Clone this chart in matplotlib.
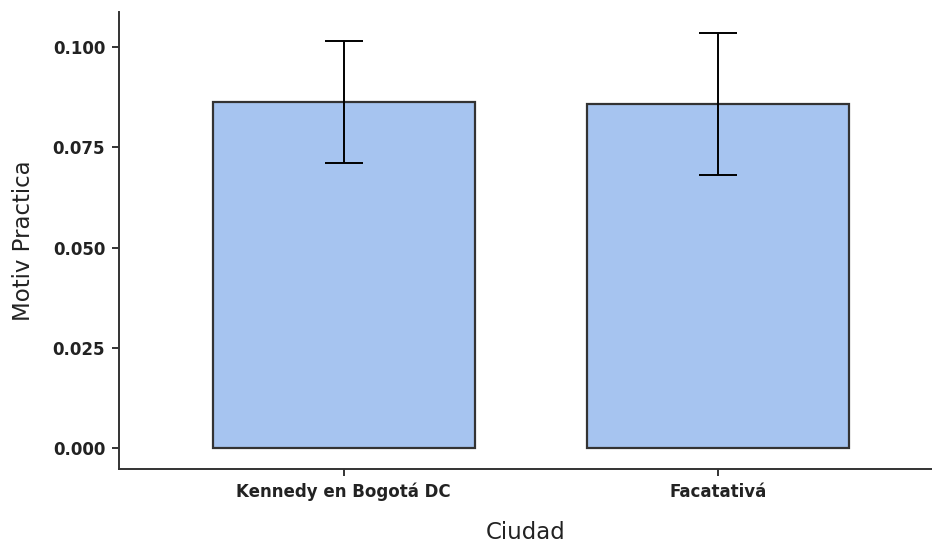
import matplotlib

matplotlib.use("Agg")

import matplotlib.pyplot as plt
import numpy as np

FIG_DPI = 100
BAR_COLOR = "#A6C4F0"
EDGE_COLOR = "#333333"
TEXT_COLOR = "#222222"

# data
ciudades = ["Kennedy en Bogotá DC", "Facatativá"]
medias = [0.0863, 0.0858]
errores = [0.0152, 0.0178]
y_ticks = [0.000, 0.025, 0.050, 0.075, 0.100]


def main() -> None:
    plt.rcParams.update({"font.family": ["DejaVu Sans"]})
    fig = plt.figure(figsize=(9.32, 5.42), dpi=FIG_DPI)
    ax = fig.add_axes([0.1277, 0.1347, 0.8723, 0.8433])

    x = np.arange(1, len(ciudades) + 1)
    ax.bar(x, medias, width=0.7, color=BAR_COLOR, edgecolor=EDGE_COLOR, linewidth=1.6, zorder=2)

    # cap width of 0.1 data units, converted to points
    ax.set_xlim(0.4, 2.571)
    ax_width_pt = 0.8723 * 9.32 * 72
    cap_pt = 0.05 / (2.571 - 0.4) * ax_width_pt
    ax.errorbar(x, medias, yerr=errores, fmt="none", ecolor="black", elinewidth=1.4,
                capsize=cap_pt, capthick=1.4, zorder=3)

    top = max(m + e for m, e in zip(medias, errores))
    ax.set_ylim(-0.05 * top, top * 1.05)
    ax.set_yticks(y_ticks)
    ax.set_yticklabels([f"{v:.3f}" for v in y_ticks])
    ax.set_xticks(x)
    ax.set_xticklabels(ciudades)

    for side in ["top", "right"]:
        ax.spines[side].set_visible(False)
    for side in ["left", "bottom"]:
        ax.spines[side].set_color(EDGE_COLOR)
        ax.spines[side].set_linewidth(1.4)

    ax.tick_params(axis="both", length=5, width=1.4, color=EDGE_COLOR, pad=5,
                   labelsize=12, labelcolor=TEXT_COLOR)
    for lbl in ax.get_xticklabels() + ax.get_yticklabels():
        lbl.set_fontweight("bold")

    ax.set_xlabel("Ciudad", fontsize=16.5, color=TEXT_COLOR, labelpad=14)
    ax.set_ylabel("Motiv Practica", fontsize=16.5, color=TEXT_COLOR, labelpad=13)

    fig.savefig("out.png", dpi=FIG_DPI)
    plt.close(fig)


if __name__ == "__main__":
    main()
